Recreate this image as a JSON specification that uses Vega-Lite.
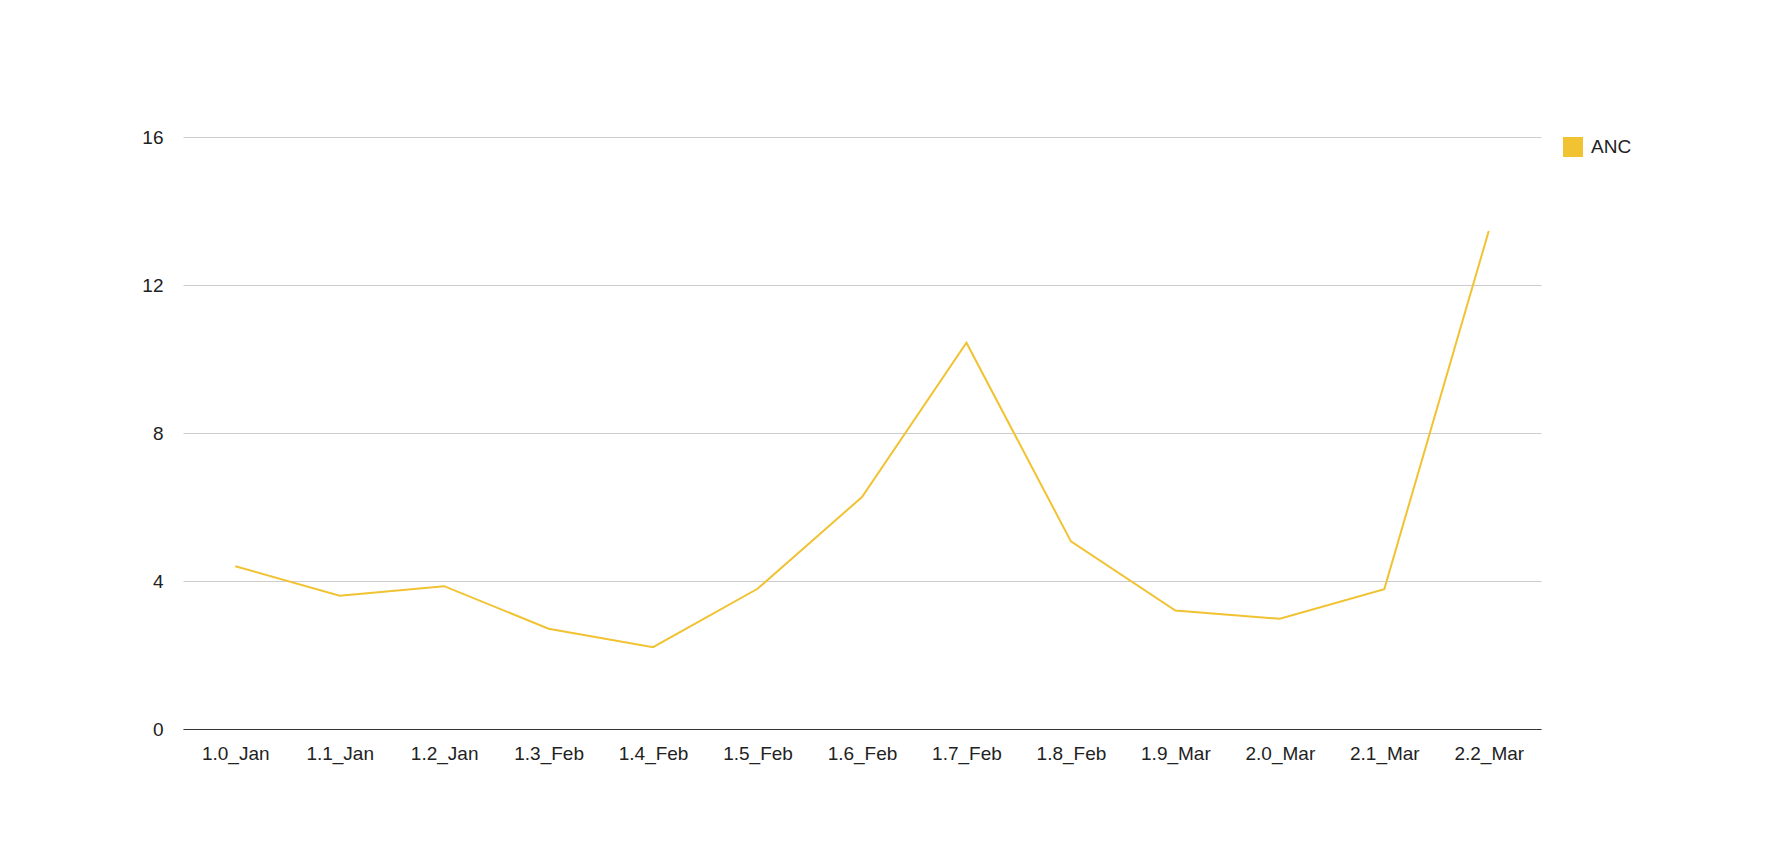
{
  "$schema": "https://vega.github.io/schema/vega-lite/v6.json",
  "width": 1358,
  "height": 592,
  "autosize": "none",
  "padding": {"left": 183, "top": 137, "right": 241, "bottom": 132},
  "background": "white",
  "data": {
    "values": [
      {"period": "1.0_Jan", "value": 4.40, "series": "ANC"},
      {"period": "1.1_Jan", "value": 3.60, "series": "ANC"},
      {"period": "1.2_Jan", "value": 3.86, "series": "ANC"},
      {"period": "1.3_Feb", "value": 2.71, "series": "ANC"},
      {"period": "1.4_Feb", "value": 2.21, "series": "ANC"},
      {"period": "1.5_Feb", "value": 3.79, "series": "ANC"},
      {"period": "1.6_Feb", "value": 6.27, "series": "ANC"},
      {"period": "1.7_Feb", "value": 10.44, "series": "ANC"},
      {"period": "1.8_Feb", "value": 5.07, "series": "ANC"},
      {"period": "1.9_Mar", "value": 3.20, "series": "ANC"},
      {"period": "2.0_Mar", "value": 2.98, "series": "ANC"},
      {"period": "2.1_Mar", "value": 3.78, "series": "ANC"},
      {"period": "2.2_Mar", "value": 13.46, "series": "ANC"}
    ]
  },
  "mark": {"type": "line", "strokeWidth": 2},
  "encoding": {
    "x": {
      "field": "period",
      "type": "nominal",
      "sort": null,
      "scale": {"type": "point", "padding": 0.5},
      "axis": {
        "title": null,
        "labelAngle": 0,
        "domain": true,
        "domainColor": "#333333",
        "domainWidth": 1,
        "ticks": false,
        "grid": false,
        "labelPadding": 15,
        "labelFontSize": 19,
        "labelColor": "#222222",
        "labelFont": "Liberation Sans"
      }
    },
    "y": {
      "field": "value",
      "type": "quantitative",
      "scale": {"domain": [0, 16], "nice": false},
      "axis": {
        "title": null,
        "values": [0, 4, 8, 12, 16],
        "domain": false,
        "ticks": false,
        "grid": true,
        "gridColor": "#cccccc",
        "gridWidth": 1,
        "labelPadding": 20,
        "labelFontSize": 19,
        "labelColor": "#222222",
        "labelFont": "Liberation Sans"
      }
    },
    "color": {
      "field": "series",
      "type": "nominal",
      "scale": {"range": ["#F1C232"]},
      "legend": {
        "title": null,
        "orient": "none",
        "legendX": 1380,
        "legendY": 0,
        "padding": 0,
        "symbolType": "square",
        "symbolSize": 400,
        "labelOffset": 8,
        "labelFontSize": 19,
        "labelColor": "#222222",
        "labelFont": "Liberation Sans",
        "encode": {
          "symbols": {
            "update": {
              "fill": {"value": "#F1C232"},
              "stroke": {"value": "#F1C232"},
              "strokeWidth": {"value": 0}
            }
          }
        }
      }
    }
  },
  "config": {"view": {"stroke": null}, "font": "Liberation Sans"}
}
